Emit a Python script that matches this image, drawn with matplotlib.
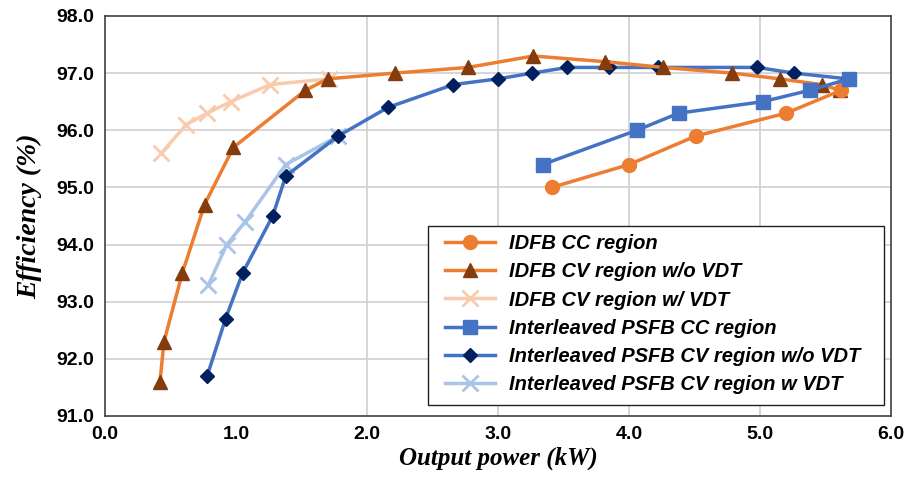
import matplotlib
matplotlib.use("Agg")
import matplotlib.pyplot as plt
from matplotlib.patches import Rectangle

# ---- data ----
idfb_cc_x = [3.41, 4.00, 4.51, 5.20, 5.62]
idfb_cc_y = [95.0, 95.4, 95.9, 96.3, 96.7]

idfb_cv_novdt_x = [0.42, 0.45, 0.59, 0.76, 0.98, 1.53, 1.70, 2.21, 2.77, 3.27, 3.82, 4.26, 4.79, 5.15, 5.47, 5.61]
idfb_cv_novdt_y = [91.6, 92.3, 93.5, 94.7, 95.7, 96.7, 96.9, 97.0, 97.1, 97.3, 97.2, 97.1, 97.0, 96.9, 96.8, 96.7]

idfb_cv_vdt_x = [0.43, 0.62, 0.78, 0.96, 1.26, 1.71]
idfb_cv_vdt_y = [95.6, 96.1, 96.3, 96.5, 96.8, 96.9]

psfb_cc_x = [3.34, 4.06, 4.38, 5.02, 5.38, 5.68]
psfb_cc_y = [95.4, 96.0, 96.3, 96.5, 96.7, 96.9]

psfb_cv_novdt_x = [0.78, 0.92, 1.05, 1.28, 1.38, 1.78, 2.16, 2.66, 3.00, 3.26, 3.53, 3.85, 4.22, 4.98, 5.26, 5.67]
psfb_cv_novdt_y = [91.7, 92.7, 93.5, 94.5, 95.2, 95.9, 96.4, 96.8, 96.9, 97.0, 97.1, 97.1, 97.1, 97.1, 97.0, 96.9]

psfb_cv_vdt_x = [0.79, 0.93, 1.07, 1.38, 1.78]
psfb_cv_vdt_y = [93.3, 94.0, 94.4, 95.4, 95.9]

labels = ["IDFB CC region", "IDFB CV region w/o VDT", "IDFB CV region w/ VDT",
          "Interleaved PSFB CC region", "Interleaved PSFB CV region w/o VDT",
          "Interleaved PSFB CV region w VDT"]

x_ticks = [0.0, 1.0, 2.0, 3.0, 4.0, 5.0, 6.0]
y_ticks = [91.0, 92.0, 93.0, 94.0, 95.0, 96.0, 97.0, 98.0]

# ---- figure ----
W, H = 907, 478
fig = plt.figure(figsize=(W/100, H/100), dpi=100)
ax = fig.add_axes([105/W, 1-416/H, (891-105)/W, (416-16)/H])

orange = "#ED7D31"
brown = "#843C0C"
light_orange = "#F8CBAD"
blue = "#4472C4"
navy = "#002060"
light_blue = "#A9C4E8"

lw = 2.5
h_vdt_i, = ax.plot(idfb_cv_vdt_x, idfb_cv_vdt_y, color=light_orange, lw=lw, marker="x",
                   ms=11, mew=2, mec=light_orange, zorder=2)
h_vdt_p, = ax.plot(psfb_cv_vdt_x, psfb_cv_vdt_y, color=light_blue, lw=lw, marker="x",
                   ms=11, mew=2, mec=light_blue, zorder=2)
h_psfb_cv, = ax.plot(psfb_cv_novdt_x, psfb_cv_novdt_y, color=blue, lw=lw, marker="D",
                     ms=7, mfc=navy, mec=navy, zorder=3)
h_idfb_cv, = ax.plot(idfb_cv_novdt_x, idfb_cv_novdt_y, color=orange, lw=lw, marker="^",
                     ms=10, mfc=brown, mec=brown, zorder=3)
h_idfb_cc, = ax.plot(idfb_cc_x, idfb_cc_y, color=orange, lw=lw, marker="o",
                     ms=10, mfc=orange, mec=orange, zorder=4)
h_psfb_cc, = ax.plot(psfb_cc_x, psfb_cc_y, color=blue, lw=lw, marker="s",
                     ms=10, mfc=blue, mec=blue, zorder=4)

ax.set_xlim(0, 6)
ax.set_ylim(91, 98)
ax.set_xticks(x_ticks)
ax.set_yticks(y_ticks)
ax.set_xticklabels([f"{v:.1f}" for v in x_ticks])
ax.set_yticklabels([f"{v:.1f}" for v in y_ticks])
for lab in ax.get_xticklabels() + ax.get_yticklabels():
    lab.set_fontfamily("Liberation Sans")
    lab.set_fontweight("bold")
    lab.set_fontsize(14)
ax.tick_params(axis="y", length=0, pad=8)
ax.tick_params(axis="x", length=0, pad=7)

# grid: horizontal at all, vertical at 2..5
for y in y_ticks[1:-1]:
    ax.axhline(y, color="#D0D0D0", lw=1.2, zorder=0)
for x in [2.0, 3.0, 4.0, 5.0]:
    ax.axvline(x, color="#D0D0D0", lw=1.2, zorder=0)

for s in ax.spines.values():
    s.set_color("#404040")
    s.set_linewidth(1.2)

ax.set_xlabel("Output power (kW)", fontfamily="Liberation Serif", fontweight="bold",
              fontstyle="italic", fontsize=18, labelpad=3)
ax.set_ylabel("Efficiency (%)", fontfamily="Liberation Serif", fontweight="bold",
              fontstyle="italic", fontsize=20, labelpad=10)

# legend box (drawn in figure pixel coordinates)
box = Rectangle((428/W, 1-405/H), (884-428)/W, (405-226)/H, transform=fig.transFigure,
                facecolor="white", edgecolor="#202020", lw=1.0, zorder=5)
fig.patches.append(box)

handles = [h_idfb_cc, h_idfb_cv, h_vdt_i, h_psfb_cc, h_psfb_cv, h_vdt_p]
leg = fig.legend(handles, labels, loc="upper left", bbox_to_anchor=(445/W, 1-234/H),
                 frameon=False, handlelength=2.5,
                 borderpad=0, labelspacing=0.46, handletextpad=0.7, borderaxespad=0,
                 prop={"family": "Liberation Sans", "weight": "bold", "style": "italic", "size": 14.5})
leg.set_zorder(6)

fig.savefig("out.png", dpi=100)
